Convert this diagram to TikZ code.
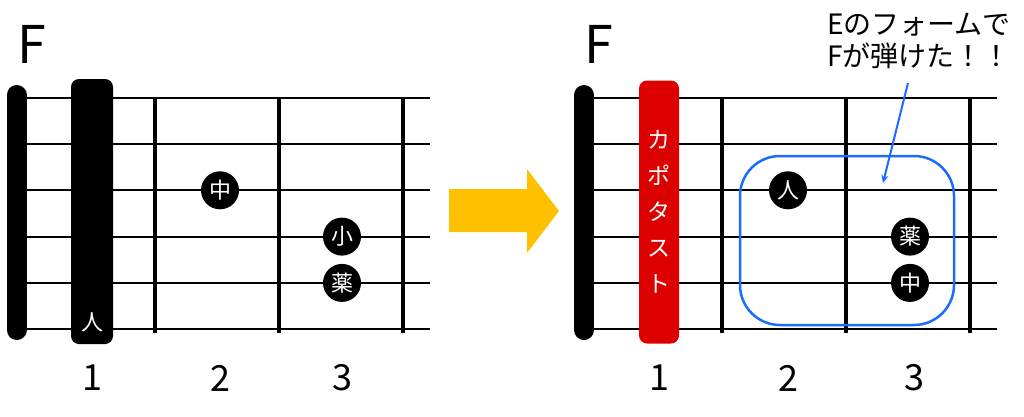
\documentclass[tikz,border=0pt]{standalone}
\usepackage{fontspec}
\setmainfont{Noto Sans CJK JP}
\usetikzlibrary{arrows.meta}
\definecolor{noteblue}{RGB}{26,108,255}
\definecolor{capored}{RGB}{221,0,0}
\definecolor{arrowyellow}{RGB}{255,192,0}

\begin{document}
\begin{tikzpicture}[x=1pt, y=-1pt,
    string/.style = {line width=2pt},
    fret/.style = {line width=4pt},
    nut/.style = {line width=20pt, line cap=round},
    finger/.style = {circle, fill=black, text=white, minimum size=38pt, inner sep=0pt, font=\fontsize{22}{22}\selectfont},
    title/.style = {font=\fontsize{52}{52}\selectfont},
    fretno/.style = {font=\fontsize{36}{36}\selectfont},
    capo/.style = {rounded corners=8pt}]
    \useasboundingbox (0,0) rectangle (1024,416);

    % left chart
    \foreach \y in {97.7,144,190.3,236.6,282.9,329.2}
        \draw[string] (20,\y) -- (430,\y);
    \foreach \x in {155,279,403}
        \draw[fret] (\x,97) -- (\x,333);
    \draw[nut] (16.5,95) -- (16.5,330);
    \node[draw=none, fill=black, capo, minimum width=42pt, minimum height=265pt] (bar) at (92,211.5) {};
    \node[text=white, font=\fontsize{22}{22}\selectfont] (hito) at (92,322) {人};
    \node[finger] (naka) at (220,190.3) {中};
    \node[finger] (ko) at (342,236.6) {小};
    \node[finger] (kusu) at (342,282.9) {薬};
    \node[title] (fl) at (32,44) {F};
    \node[fretno] (l1) at (92,378) {1};
    \node[fretno] (l2) at (220,378) {2};
    \node[fretno] (l3) at (342,378) {3};

    % arrow between charts
    \fill[arrowyellow] (449,189) -- (527,189) -- (527,169) -- (559,211)
        -- (527,253) -- (527,232) -- (449,232) -- cycle;

    % right chart
    \foreach \y in {97.7,144,190.3,236.6,282.9,329.2}
        \draw[string] (588,\y) -- (997,\y);
    \foreach \x in {722,846,970}
        \draw[fret] (\x,97) -- (\x,333);
    \draw[nut] (584,95) -- (584,330);
    \node[fill=capored, capo, minimum width=40pt, minimum height=263pt, text=white,
        font=\fontsize{23}{36}\selectfont, align=center, inner sep=0pt] (cp) at (659,212)
        {カ\\ポ\\タ\\ス\\ト};
    \node[finger] (hito2) at (788,190.3) {人};
    \node[finger] (kusu2) at (910,236.6) {薬};
    \node[finger] (naka2) at (910,282.9) {中};
    \draw[noteblue, line width=2.5pt, rounded corners=40pt] (740,156) rectangle (954,325);
    \node[title] (fr) at (599,44) {F};
    \node[fretno] (r1) at (659,378) {1};
    \node[fretno] (r2) at (788,378) {2};
    \node[fretno] (r3) at (914,378) {3};

    % note
    \node[anchor=north west, align=left, inner sep=0pt, font=\fontsize{28}{32}\selectfont] (note) at (827,13)
        {Eのフォームで\\Fが弾けた！！};
    \coordinate (tail) at (908,83);
    \coordinate (head) at (883,183);
    \draw[noteblue, line width=2pt, -{Stealth[length=8pt, width=7pt]}] (tail) -- (head);
\end{tikzpicture}
\end{document}
